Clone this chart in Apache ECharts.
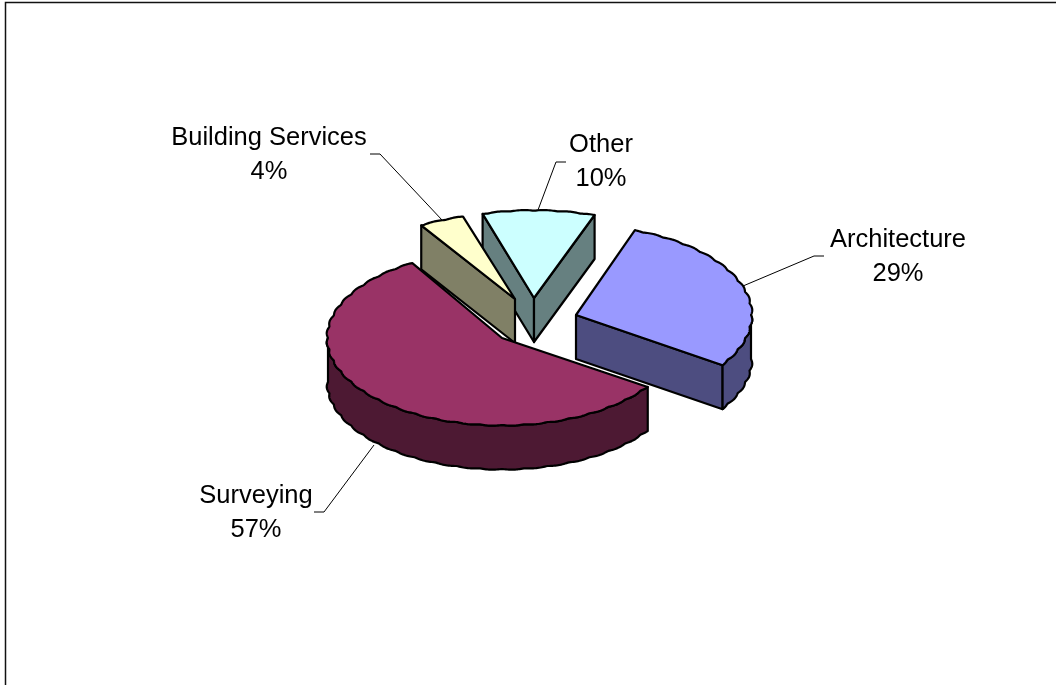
<!DOCTYPE html>
<html>
<head>
<meta charset="utf-8">
<style>html,body{margin:0;padding:0;background:#fff}#c{width:1056px;height:685px}</style>
<script src="https://cdn.jsdelivr.net/npm/echarts@6/dist/echarts.min.js"></script>
</head>
<body>
<div id="c"></div>
<script>
// Sector shares, clockwise from the start of the Architecture slice
const categories = ['Architecture', 'Surveying', 'Building Services', 'Other'];
const values = [29, 57, 4, 10];
const topColors = ['#9999FF', '#993366', '#FFFFCC', '#CCFFFF'];
const sideColors = ['#4D4D80', '#4D1933', '#808066', '#668080'];

// Exploded layout of each slice: ellipse centre, radius and squash
const centres = [[576, 315], [502, 338], [515, 299], [534, 298]];
const radii = [175, 174, 182, 180];
const squash = [0.51, 0.5, 0.47, 0.485];
const paintOrder = [3, 0, 2, 1];
const START_DEG = 289.5;
const DEPTH = 44;

// Leader lines and label anchors
const leaders = [
  [[743, 286], [814, 256], [824, 256]],
  [[374, 445], [324, 512], [314, 512]],
  [[370, 154], [380, 154], [442, 220]],
  [[538, 210], [556, 162], [566, 162]]
];
const labelAnchors = [[898, 256.5], [256, 512.5], [269, 154.5], [601, 161.5]];

const total = values.reduce((a, b) => a + b, 0);
const spans = [];
values.reduce((from, v) => {
  const to = from + v / total * 360;
  spans.push([from, to]);
  return to;
}, START_DEG);

const rad = d => d * Math.PI / 180;

// Point on a slice's rim; the small ripple gives the outline its hand-cut edge
function rimPoint(i, deg, drop) {
  const ripple = 1.6 * Math.abs(Math.sin(rad(deg) * 24));
  const r = radii[i] + ripple;
  return [
    centres[i][0] + r * Math.cos(rad(deg)),
    centres[i][1] + r * squash[i] * Math.sin(rad(deg)) + drop
  ];
}

function rim(i, from, to, drop) {
  const pts = [];
  const n = Math.max(2, Math.ceil((to - from) * 2));
  for (let k = 0; k <= n; k++) pts.push(rimPoint(i, from + (to - from) * k / n, drop));
  return pts;
}

function face(points, fill) {
  return {
    type: 'polygon',
    shape: { points },
    style: { fill, stroke: '#000', lineWidth: 2.2, lineJoin: 'round' }
  };
}

function renderSlice(params, api) {
  const i = api.value(0);
  const [a0, a1] = spans[i];
  const c = centres[i];
  const side = sideColors[i];
  const children = [];
  const cutFace = deg => {
    const p = rimPoint(i, deg, 0);
    return face([c, p, [p[0], p[1] + DEPTH], [c[0], c[1] + DEPTH]], side);
  };
  // Cut faces that turn toward the viewer
  if (-Math.cos(rad(a0)) > 0) children.push(cutFace(a0));
  if (Math.cos(rad(a1)) > 0) children.push(cutFace(a1));
  // Outer wall: only the front half of the ellipse can be seen
  for (const base of [0, 360]) {
    const from = Math.max(a0, base);
    const to = Math.min(a1, base + 180);
    if (to > from) {
      const upper = rim(i, from, to, 0);
      const lower = rim(i, from, to, DEPTH).reverse();
      children.push(face(upper.concat(lower), side));
    }
  }
  children.push(face([c].concat(rim(i, a0, a1, 0)), topColors[i]));
  return { type: 'group', children };
}

const chart = echarts.init(document.getElementById('c'), null, { renderer: 'canvas' });

const labelGraphics = categories.map((name, i) => ({
  type: 'text',
  x: labelAnchors[i][0],
  y: labelAnchors[i][1],
  silent: true,
  style: {
    text: name + '\n' + values[i] + '%',
    fontFamily: 'Liberation Sans',
    fontSize: 25.5,
    lineHeight: 34,
    fill: '#000',
    align: 'center',
    verticalAlign: 'middle'
  }
}));

const leaderGraphics = leaders.map(points => ({
  type: 'polyline',
  silent: true,
  shape: { points },
  style: { stroke: '#000', lineWidth: 1, fill: null }
}));

chart.setOption({
  backgroundColor: '#fff',
  animation: false,
  graphic: [
    {
      type: 'polyline',
      silent: true,
      shape: { points: [[5.5, 685], [5.5, 2.5], [1056, 2.5]] },
      style: { stroke: '#111', lineWidth: 1.5, fill: null }
    },
    ...leaderGraphics,
    ...labelGraphics
  ],
  series: [{
    type: 'custom',
    coordinateSystem: 'none',
    renderItem: renderSlice,
    data: paintOrder.map(i => [i, values[i]])
  }]
});
</script>
</body>
</html>
